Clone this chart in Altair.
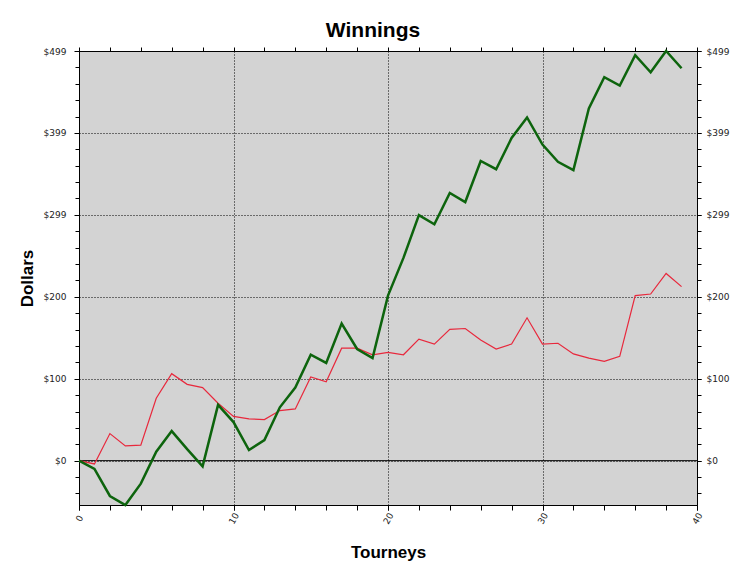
import altair as alt
import pandas as pd

# values
tourney = list(range(40))
winnings = [0, -10, -43, -54, -28, 11, 36, 14, -7, 68,
            47, 13, 25, 65, 89, 129, 119, 167, 136, 125,
            201, 247, 299, 288, 326, 315, 365, 355, 393, 418,
            385, 364, 354, 429, 467, 457, 494, 473, 499, 478]
expected = [0, -4, 33, 18, 19, 76, 106, 93, 89, 70,
            54, 51, 50, 61, 63, 102, 96, 137, 137, 129,
            132, 129, 148, 142, 160, 161, 147, 136, 142, 174,
            142, 143, 130, 125, 121, 127, 201, 203, 228, 212]

y_major = [0, 99.8, 199.6, 299.4, 399.2, 499]
y_minor = [round(i * 19.96, 2) for i in range(-2, 26)]
x_major = [0, 10, 20, 30, 40]
x_minor = list(range(0, 41, 2))
baseline = [0]

df = pd.DataFrame({"tourney": tourney, "winnings": winnings, "expected": expected})

x_scale = alt.Scale(domain=[0, 40], nice=False)
y_scale = alt.Scale(domain=[-54, 499], nice=False, zero=False)

dotted = dict(grid=True, gridColor="black", gridDash=[1, 2], gridOpacity=1, gridWidth=1)
plain = dict(domain=False, tickColor="black", tickWidth=1)

green = alt.Chart(df).mark_line(color="#0d640d", strokeWidth=2.5).encode(
    x=alt.X("tourney:Q", scale=x_scale, axis=alt.Axis(
        orient="bottom", values=x_major, labelAngle=300, labelAlign="center",
        labelBaseline="middle", labelPadding=8, tickSize=5,
        title="Tourneys", titleX=309, titleY=52, titleBaseline="alphabetic",
        **dotted, **plain)),
    y=alt.Y("winnings:Q", scale=y_scale, axis=alt.Axis(
        orient="left", values=y_major, format="$.0f", tickSize=5, labelPadding=8,
        title="Dollars", titleX=-47, titleY=227, titleAngle=270,
        titleAlign="center", titleBaseline="alphabetic",
        **dotted, **plain)),
)

red = alt.Chart(df).mark_line(color="#e8283c", strokeWidth=1.2).encode(
    x=alt.X("tourney:Q", scale=x_scale, axis=alt.Axis(
        orient="bottom", values=x_minor, labels=False, tickSize=5, grid=False,
        title="", **plain)),
    y=alt.Y("expected:Q", scale=y_scale, axis=alt.Axis(
        orient="left", values=y_minor, labels=False, tickSize=4, grid=False,
        title="", **plain)),
)

zero = alt.Chart(pd.DataFrame({"level": baseline})).mark_rule(
    color="black", strokeWidth=1
).encode(
    y=alt.Y("level:Q", scale=y_scale, axis=alt.Axis(
        orient="right", values=y_major, format="$.0f", tickSize=4, labelPadding=5,
        grid=False, title="", **plain)),
)

ghost = alt.Chart(df).mark_line(opacity=0).encode(
    x=alt.X("tourney:Q", scale=x_scale, axis=alt.Axis(
        orient="top", values=x_minor, labels=False, tickSize=4, grid=False,
        title="", **plain)),
    y=alt.Y("expected:Q", scale=y_scale, axis=alt.Axis(
        orient="right", values=y_minor, labels=False, tickSize=4, grid=False,
        title="", **plain)),
)

chart = (
    alt.layer(zero, red, green, ghost)
    .resolve_axis(x="independent", y="independent")
    .properties(
        width=618,
        height=454,
        autosize=alt.AutoSizeParams(type="none"),
        padding={"left": 71, "top": 43, "right": 40, "bottom": 58},
        title=alt.TitleParams(
            "Winnings", font="Liberation Sans", fontSize=21, fontWeight="bold",
            color="black", anchor="middle", frame="group", baseline="alphabetic",
            offset=19, dx=-15, dy=31,
        ),
    )
    .configure(background="white")
    .configure_view(fill="#d3d3d3", stroke="black", strokeWidth=1)
    .configure_axis(
        labelFont="DejaVu Sans", labelFontSize=9, labelColor="#222",
        titleFont="Liberation Sans", titleFontSize=17, titleFontWeight="bold",
        titleColor="black",
    )
)

chart.save("out.html", embed_options={"renderer": "svg", "actions": False})
